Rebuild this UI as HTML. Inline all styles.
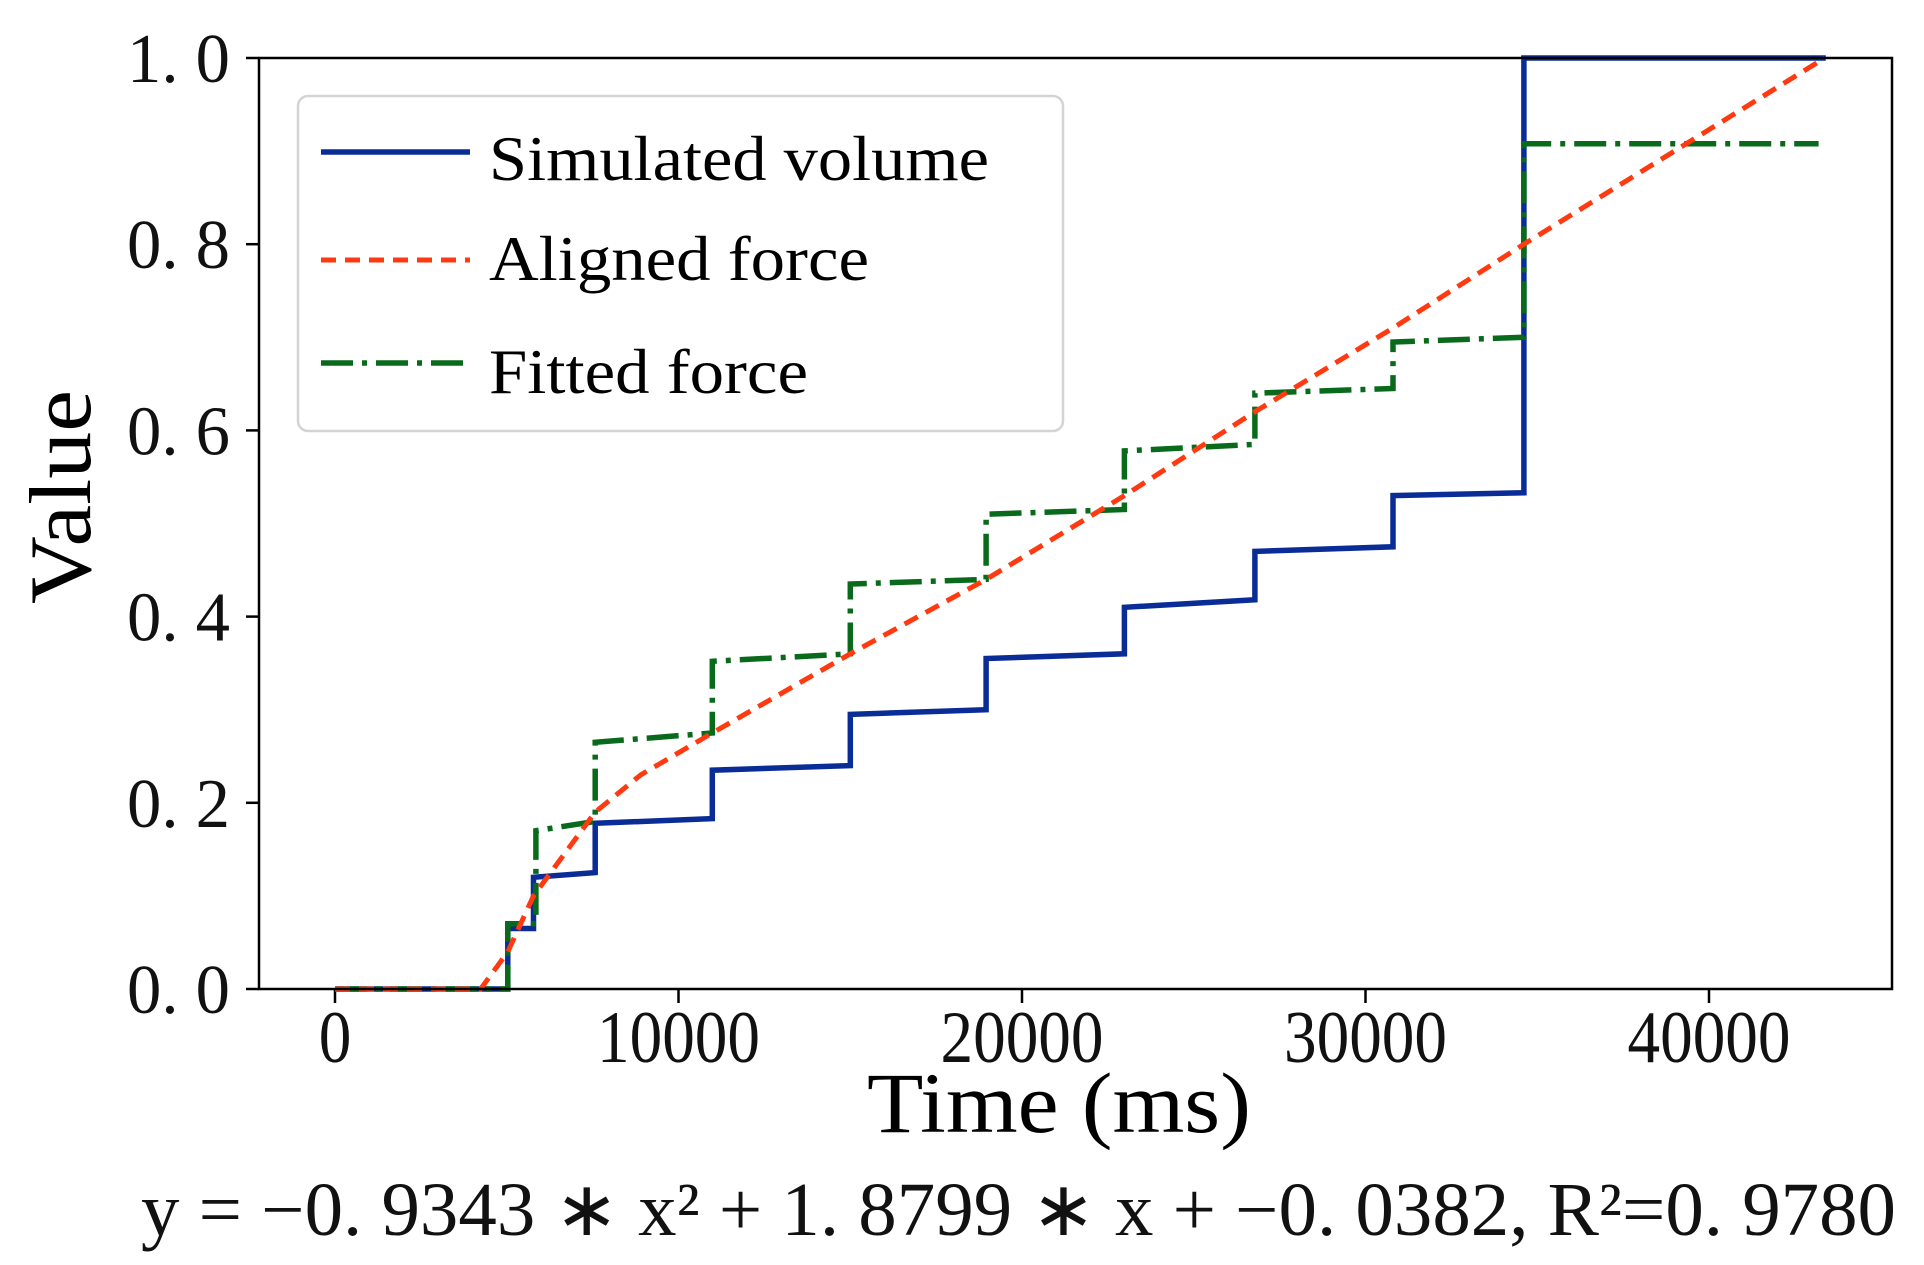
<!DOCTYPE html>
<html><head><meta charset="utf-8"><style>
html,body{margin:0;padding:0;background:#fff;}
svg{display:block;font-family:"Liberation Serif",serif;}
</style></head><body>
<svg id="chart" width="1924" height="1265" viewBox="0 0 1924 1265">
<g id="plot"></g>
<g>
  <rect x="298" y="96" width="765" height="335" rx="10" fill="#fff" fill-opacity="0.85" stroke="#d4d4d4" stroke-width="2.5"/>
  <line x1="321" y1="152" x2="470" y2="152" stroke="#0a2c96" stroke-width="5.5"/>
  <text x="489" y="180" font-size="64" textLength="500" lengthAdjust="spacingAndGlyphs">Simulated volume</text>
  <line x1="321" y1="260" x2="470" y2="260" stroke="#ff3a10" stroke-width="5" stroke-dasharray="15 9"/>
  <text x="489" y="280" font-size="64" textLength="380" lengthAdjust="spacingAndGlyphs">Aligned force</text>
  <line x1="321" y1="363" x2="470" y2="363" stroke="#0a6a1c" stroke-width="5.5" stroke-dasharray="32 9 5 9"/>
  <text x="489" y="393" font-size="64" textLength="319" lengthAdjust="spacingAndGlyphs">Fitted force</text>
</g>
<text x="1059" y="1132" text-anchor="middle" font-size="86" textLength="384" lengthAdjust="spacingAndGlyphs">Time (ms)</text>
<text transform="translate(90,497) rotate(-90)" text-anchor="middle" font-size="88" textLength="214" lengthAdjust="spacingAndGlyphs">Value</text>
<text x="141" y="1235" font-size="76" textLength="1755" lengthAdjust="spacingAndGlyphs" fill="#111">y = −0. 9343 ∗ x² + 1. 8799 ∗ x + −0. 0382, R²=0. 9780</text>
</svg>
<script>
const xTicks=[0,10000,20000,30000,40000];
const yTicks=[0,0.2,0.4,0.6,0.8,1.0];
const yTickLabels=["0. 0","0. 2","0. 4","0. 6","0. 8","1. 0"];
const volX=[0,5030,5030,5780,5780,7575,7575,10985,10985,15000,15000,18955,18955,22980,22980,26780,26780,30800,30800,34610,34610,43400];
const volY=[0,0,0.065,0.065,0.12,0.125,0.178,0.183,0.235,0.24,0.295,0.30,0.355,0.36,0.41,0.418,0.47,0.475,0.53,0.533,1.0,1.0];
const fitX=[0,5030,5030,5850,5850,7575,7575,10985,10985,15000,15000,18955,18955,22980,22980,26780,26780,30800,30800,34610,34610,43190];
const fitY=[0,0,0.07,0.07,0.17,0.18,0.265,0.275,0.352,0.36,0.435,0.44,0.51,0.515,0.578,0.585,0.64,0.645,0.695,0.70,0.908,0.908];
const alX=[0,4240,5030,5780,7575,8900,10985,15000,18955,22980,26780,30800,34610,43370];
const alY=[0,0,0.04,0.10,0.19,0.23,0.275,0.36,0.44,0.53,0.62,0.71,0.80,1.0];

const L=259,R=1892,T=58,B=989;
const X0=335,XPER=34.35/1000;
function sx(v){return X0+v*XPER;}
function sy(v){return B-(B-T)*v;}
const NS="http://www.w3.org/2000/svg";
const g=document.getElementById('plot');
function mk(tag,attrs,parent){const e=document.createElementNS(NS,tag);for(const k in attrs)e.setAttribute(k,attrs[k]);(parent||g).appendChild(e);return e;}

xTicks.forEach((t,i)=>{
  const tk=mk('line',{x1:sx(t),x2:sx(t),y1:B,y2:B+14,stroke:'#000','stroke-width':2.5});
  
  
  const s=String(t);
  const tx=mk('text',{x:sx(t),y:1062,'text-anchor':'middle','font-size':74,textLength:s.length*32.6,lengthAdjust:'spacingAndGlyphs',fill:'#111'});
  tx.textContent=s;
  
  
});
yTicks.forEach((t,i)=>{
  const tk=mk('line',{x1:L-13,x2:L,y1:sy(t),y2:sy(t),stroke:'#000','stroke-width':2.5});
  
  
  const tx=mk('text',{x:230,y:sy(t)+24,'text-anchor':'end','font-size':70,textLength:103,lengthAdjust:'spacingAndGlyphs',fill:'#111'});
  tx.textContent=yTickLabels[i];
  
  
});

function path(xs,ys){return xs.map((x,i)=>(i?'L':'M')+sx(x).toFixed(1)+','+sy(ys[i]).toFixed(1)).join(' ');}
const vol=mk('path',{d:path(volX,volY),fill:'none',stroke:'#0a2c96','stroke-width':5.5});


const fit=mk('path',{d:path(fitX,fitY),fill:'none',stroke:'#0a6a1c','stroke-width':5.5,'stroke-dasharray':'32 9 5 9'});


const al=mk('path',{d:path(alX,alY),fill:'none',stroke:'#ff3a10','stroke-width':5,'stroke-dasharray':'15 9'});



const fr=mk('rect',{x:L,y:T,width:R-L,height:B-T,fill:'none',stroke:'#000','stroke-width':2.5});


</script>
</body></html>
